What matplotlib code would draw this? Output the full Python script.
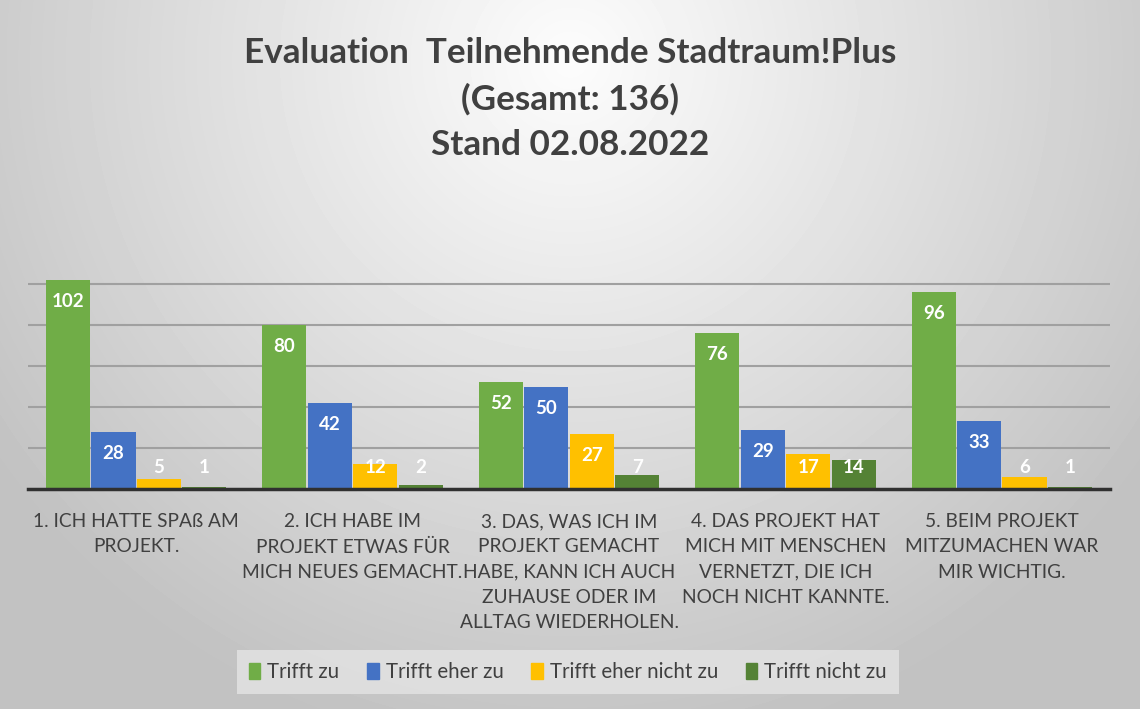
import numpy as np
import matplotlib.pyplot as plt
from matplotlib.patches import Patch

categories = [
    "1. ICH HATTE SPAß AM\nPROJEKT.",
    "2. ICH HABE IM\nPROJEKT ETWAS FÜR\nMICH NEUES GEMACHT.",
    "3. DAS, WAS ICH IM\nPROJEKT GEMACHT\nHABE, KANN ICH AUCH\nZUHAUSE ODER IM\nALLTAG WIEDERHOLEN.",
    "4. DAS PROJEKT HAT\nMICH MIT MENSCHEN\nVERNETZT, DIE ICH\nNOCH NICHT KANNTE.",
    "5. BEIM PROJEKT\nMITZUMACHEN WAR\nMIR WICHTIG.",
]
series_names = ["Trifft zu", "Trifft eher zu", "Trifft eher nicht zu", "Trifft nicht zu"]
trifft_zu = [102, 80, 52, 76, 96]
trifft_eher_zu = [28, 42, 50, 29, 33]
trifft_eher_nicht_zu = [5, 12, 27, 17, 6]
trifft_nicht_zu = [1, 2, 7, 14, 1]
colors = ["#70AD47", "#4472C4", "#FFC000", "#548235"]

plt.rcParams['font.family'] = ['Lato', 'DejaVu Sans']

fig = plt.figure(figsize=(11.4, 7.09), dpi=100)

# radial gray background
bg = fig.add_axes([0, 0, 1, 1], zorder=-5)
yy, xx = np.mgrid[0:709, 0:1140]
r = np.sqrt(((xx - 570) / 700.0) ** 2 + ((yy - 60) / 700.0) ** 2)
shade = np.clip(0.99 - 0.23 * r, 0.76, 0.99)
bg.imshow(shade, cmap='gray', vmin=0, vmax=1, aspect='auto')
bg.axis('off')

ax = fig.add_axes([28 / 1140, 1 - 489 / 709, (1110 - 28) / 1140, 225.5 / 709])
ax.patch.set_alpha(0)

x = np.arange(len(categories))
w = 0.21
all_series = [trifft_zu, trifft_eher_zu, trifft_eher_nicht_zu, trifft_nicht_zu]
for i, vals in enumerate(all_series):
    pos = x + (i - 1.5) * w
    ax.bar(pos, vals, width=w * 0.97, color=colors[i], zorder=3, label=series_names[i])
    for p, v in zip(pos, vals):
        ax.text(p, max(v - 10.5, 10.5), str(v), ha='center', va='center',
                color='white', fontsize=13.5, fontweight='bold', zorder=4)

ax.set_xlim(-0.5, 4.5)
ax.set_ylim(0, 110)
ax.set_yticks([20, 40, 60, 80, 100])
ax.yaxis.grid(True, color='#a0a0a0', lw=1.5, zorder=0)
ax.tick_params(axis='y', left=False, labelleft=False)
ax.tick_params(axis='x', bottom=False, pad=14)
ax.set_xticks(x)
ax.set_xticklabels(categories, fontsize=13.8, color='#404040', linespacing=1.58, va='top')
for s in ['top', 'right', 'left']:
    ax.spines[s].set_visible(False)
ax.spines['bottom'].set_color('#303030')
ax.spines['bottom'].set_linewidth(2.5)
ax.spines['bottom'].set_zorder(5)

fig.text(0.5, 1 - 99 / 709,
         "Evaluation  Teilnehmende Stadtraum!Plus\n(Gesamt: 136)\nStand 02.08.2022",
         ha='center', va='center', fontsize=25.3, fontweight='bold', color='#404040',
         linespacing=1.53)

handles = [Patch(color=c) for c in colors]
leg = fig.legend(handles, series_names, loc='center', bbox_to_anchor=(568 / 1140, 1 - 672 / 709),
                 ncol=4, frameon=True, fontsize=14.8, handlelength=0.55, handleheight=0.85,
                 handletextpad=0.35, columnspacing=1.35, borderpad=0.6, fancybox=False)
leg.get_frame().set_facecolor('#e4e4e4')
leg.get_frame().set_edgecolor('none')
for t in leg.get_texts():
    t.set_color('#404040')

fig.savefig("out.png", dpi=100)
